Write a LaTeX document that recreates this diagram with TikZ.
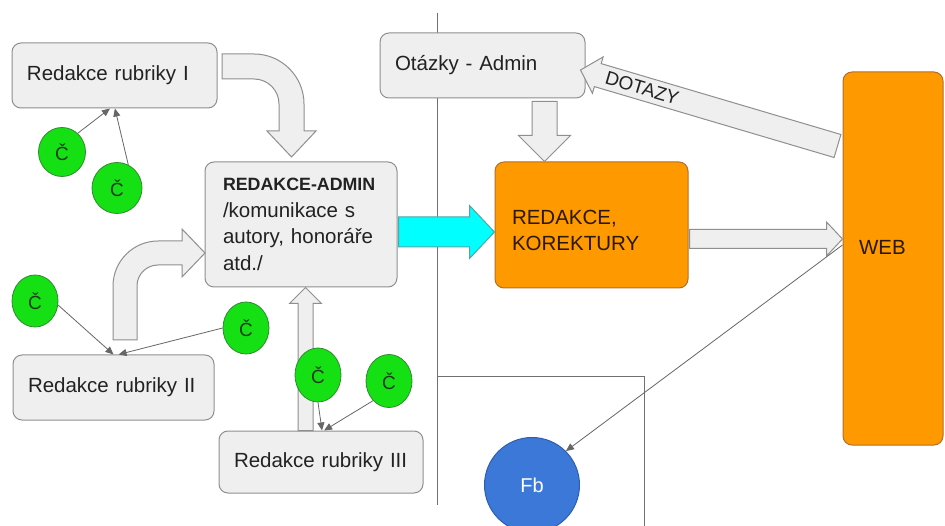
\documentclass[tikz,border=0pt]{standalone}
\usepackage{fontspec}
\setmainfont{Liberation Sans}
\usetikzlibrary{shapes.geometric,arrows.meta,calc}
\definecolor{boxfill}{HTML}{EFEFEF}
\definecolor{boxline}{HTML}{8F8F8F}
\definecolor{txt}{HTML}{222222}
\definecolor{grn}{HTML}{14E014}
\definecolor{grnline}{HTML}{2E8B2E}
\definecolor{grntxt}{HTML}{1E3A1E}
\definecolor{org}{HTML}{FF9900}
\definecolor{orgline}{HTML}{B0702A}
\definecolor{orgtxt}{HTML}{2A1800}
\definecolor{cyn}{HTML}{00FFFF}
\definecolor{cynline}{HTML}{52A6A6}
\definecolor{fbblue}{HTML}{3C78D8}
\definecolor{fbline}{HTML}{2E5EAE}
\definecolor{sepline}{HTML}{707070}
\definecolor{conline}{HTML}{666666}
% block arrow: [style]{start}{end}{shaft half width}{head half width}{head length}
\newcommand\blockarr[6][]{%
  \filldraw[#1] let \p1=(#2), \p2=(#3),
    \n1={atan2(\y2-\y1,\x2-\x1)}, \n2={veclen(\x2-\x1,\y2-\y1)} in
    [shift={(\p1)}, rotate=\n1]
    (0pt,#4) -- ({\n2*1pt-#6},#4) -- ({\n2*1pt-#6},#5) -- ({\n2*1pt},0pt)
    -- ({\n2*1pt-#6},-#5) -- ({\n2*1pt-#6},-#4) -- (0pt,-#4) -- cycle;}
\begin{document}
\begin{tikzpicture}[x=1pt,y=-1pt,
  gbox/.style={draw=boxline, fill=boxfill, line width=1pt, rounded corners=9pt,
    align=left, inner xsep=15pt, inner ysep=0pt, text=txt,
    font=\fontsize{20.5}{26.7}\selectfont},
  obox/.style={gbox, draw=orgline, fill=org, text=orgtxt},
  chip/.style={ellipse, draw=grnline, fill=grn, line width=0.8pt, inner sep=0pt,
    minimum width=46pt, minimum height=52pt, text=grntxt,
    font=\fontsize{19}{19}\selectfont},
  garrow/.style={draw=boxline, fill=boxfill, line width=1pt},
  carrow/.style={draw=cynline, fill=cyn, line width=1pt},
  conn/.style={draw=conline, line width=0.8pt, -{Triangle[length=8pt,width=7pt]}},
  sep/.style={draw=sepline, line width=1pt}
]
\useasboundingbox (0,0) rectangle (945,526);
\clip (0,0) rectangle (945,526);
\fill[white] (0,0) rectangle (945,526);

% separator lines
\coordinate (s1) at (437,13);
\coordinate (s2) at (437,505);
\coordinate (s3) at (644,377);
\coordinate (s4) at (644,530);
\draw[sep] (s1) -- (s2);
\draw[sep] (s2 |- s3) -- (s3) -- (s4);

% boxes
\node[gbox, text width=175pt, minimum height=65pt] (b1) at (114.5,75.5) {Redakce rubriky I};
\node[gbox, text width=171pt, minimum height=65pt] (b2) at (113.5,387.5) {Redakce rubriky II};
\node[gbox, text width=174pt, minimum height=62pt] (b3) at (321,462) {Redakce rubriky III};
\node[gbox, text width=175pt, minimum height=65pt] (otazky) at (482.5,65.5) {Otázky - Admin};
\node[gbox, inner xsep=18pt, text width=156pt, minimum height=125pt] (admin) at (301,224.5)
  {{\fontsize{17.8}{26.7}\selectfont\bfseries REDAKCE-ADMIN}\\/komunikace s\\autory, honoráře\\atd./};
\node[obox, inner xsep=17pt, text width=159pt, minimum height=126pt] (red) at (591.5,225)
  {\rule{0pt}{25pt}REDAKCE,\\KOREKTURY};
\node[obox, inner xsep=16pt, text width=68pt, minimum height=373pt] (web) at (893,258.5)
  {WEB\rule[-22pt]{0pt}{22pt}};
\node[circle, draw=fbline, fill=fbblue, line width=1pt, minimum size=95pt, inner sep=0pt,
  text=white, font=\fontsize{20}{20}\selectfont] (fb) at (532,485) {Fb};

% curved block arrows
\filldraw[garrow] (222,54) -- (254,54) .. controls (281.6,54) and (304,76.4) .. (304,104)
  -- (304,131) -- (316,131) -- (291.5,157) -- (267,131) -- (279,131) -- (279,104)
  .. controls (279,90.2) and (267.8,79) .. (254,79) -- (222,79) -- cycle;
\filldraw[garrow] (113,340) -- (113,286) .. controls (113,261.2) and (133.2,241) .. (158,241)
  -- (182,241) -- (182,229) -- (205,253) -- (182,277) -- (182,265) -- (158,265)
  .. controls (146.4,265) and (137,274.4) .. (137,286) -- (137,340) -- cycle;

% straight block arrows
\coordinate (upS) at (b3.north -| 305.5,0);
\coordinate (upE) at (admin.south -| upS);
\blockarr[garrow]{upS}{upE}{7.5pt}{16pt}{16pt}
\coordinate (dnS) at ($(otazky.south -| 544.5,0)+(0,3)$);
\coordinate (dnE) at (red.north -| dnS);
\blockarr[garrow]{dnS}{dnE}{12.5pt}{26pt}{26pt}
\coordinate (cyS) at ($(admin.east)+(1,7.5)$);
\coordinate (cyE) at (red.west |- cyS);
\blockarr[carrow]{cyS}{cyE}{15pt}{26.5pt}{25pt}
\coordinate (wbS) at ($(red.east |- 0,239)+(1,0)$);
\coordinate (wbE) at (web.west |- wbS);
\blockarr[garrow]{wbS}{wbE}{9.5pt}{17pt}{16pt}
\coordinate (dotS) at ($(web.west)+(-5,-112.5)$);
\coordinate (dotE) at ($(otazky.east)+(-5,4.5)$);
\blockarr[garrow]{dotS}{dotE}{12pt}{19pt}{18pt}
\node[rotate=-16.4, text=txt, font=\fontsize{19}{19}\selectfont] (dotlbl)
  at ($(dotE)!0.24!(dotS)$) {DOTAZY};

% authors
\node[chip, minimum width=47pt, minimum height=49pt] (c1) at (62,152) {Č};
\node[chip, minimum width=50pt, minimum height=51pt] (c2) at (117,188) {Č};
\node[chip] (c3) at (35,301) {Č};
\node[chip] (c4) at (246,328) {Č};
\node[chip, minimum height=54pt] (c5) at (318,375) {Č};
\node[chip, minimum height=53pt] (c6) at (389,381) {Č};

% connectors
\draw[conn] (c1.50) -- ($(b1.south west)!0.478!(b1.south east)$);
\draw[conn] (c2.64) -- ($(b1.south west)!0.502!(b1.south east)$);
\draw[conn] (c3.-10) -- ($(b2.north west)!0.5!(b2.north east)$);
\draw[conn] (c4.west) -- ($(b2.north west)!0.525!(b2.north east)$);
\draw[conn] (c5.south) -- ($(b3.north west)!0.505!(b3.north east)$);
\draw[conn] (c6.231) -- ($(b3.north west)!0.515!(b3.north east)$);
\draw[conn] ([yshift=13.5pt]web.west) -- (fb.45);
\end{tikzpicture}
\end{document}
